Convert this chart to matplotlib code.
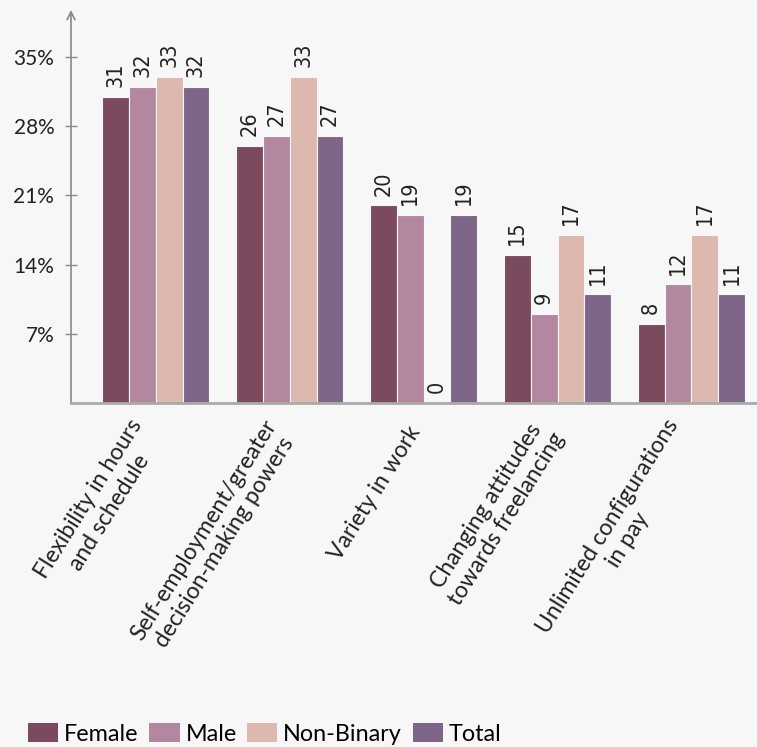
import numpy as np
import matplotlib.pyplot as plt
import matplotlib.transforms as mtransforms
from matplotlib.patches import Patch

plt.rcParams['font.family'] = ['Lato', 'DejaVu Sans']

# datos
categories = [
    "Flexibility in hours\nand schedule",
    "Self-employment/greater\ndecision-making powers",
    "Variety in work",
    "Changing attitudes\ntowards freelancing",
    "Unlimited configurations\nin pay",
]
series_names = ["Female", "Male", "Non-Binary", "Total"]
female = [31, 26, 20, 15, 8]
male = [32, 27, 19, 9, 12]
non_binary = [33, 33, 0, 17, 17]
total = [32, 27, 19, 11, 11]
y_ticks = [7, 14, 21, 28, 35]

colors = ["#7b4a5e", "#b3879f", "#dcb8ae", "#7d6688"]
bg = "#f7f7f7"

fig = plt.figure(figsize=(7.57, 7.47), dpi=100, facecolor=bg)
ax = fig.add_axes([71 / 757, 1 - 403 / 747, 1 - 71 / 757, (403 - 10) / 747])
ax.set_facecolor(bg)

x = np.arange(len(categories))
w = 0.2
for k, (vals, c) in enumerate(zip([female, male, non_binary, total], colors)):
    pos = x + (k - 1.5) * w
    ax.bar(pos, vals, width=w, color=c, edgecolor=bg, linewidth=0.8, zorder=2)
    for xp, v in zip(pos, vals):
        ax.annotate(f"{v}", (xp, v), xytext=(0, 7), textcoords="offset points",
                    rotation=90, ha="center", va="bottom", fontsize=15.5,
                    family="DejaVu Sans", fontstretch="condensed", color="#222222")

ax.set_xlim(-0.634, 4.49)
ax.set_ylim(0, 39.75)

ax.set_yticks(y_ticks)
ax.set_yticklabels([f"{t}%" for t in y_ticks], fontsize=15, color="#222222")
ax.tick_params(axis="y", direction="inout", length=8, color="#888888", width=1, pad=8)

ax.set_xticks(x)
ax.set_xticklabels(categories, rotation=58, ha="right", va="center",
                   rotation_mode="anchor", multialignment="center",
                   fontsize=16.5, color="#222222")
ax.tick_params(axis="x", length=0, pad=18)
shift = mtransforms.ScaledTranslation(-8 / 100, 0, fig.dpi_scale_trans)
for lbl in ax.get_xticklabels():
    lbl.set_transform(lbl.get_transform() + shift)

for s in ["top", "right", "left"]:
    ax.spines[s].set_visible(False)
ax.spines["bottom"].set_color("#aaaaaa")
ax.spines["bottom"].set_linewidth(2)
ax.spines["bottom"].set_zorder(3)

# eje y con flecha
ax.annotate("", xy=(0, 1.0), xytext=(0, 0), xycoords="axes fraction",
            arrowprops=dict(arrowstyle="->", color="#888888", lw=1.2,
                            mutation_scale=14, shrinkA=0, shrinkB=0))

handles = [Patch(facecolor=c, edgecolor="none") for c in colors]
fig.legend(handles, series_names, loc="lower left", bbox_to_anchor=(0.034, 0.0),
           ncol=4, frameon=False, fontsize=16.8, handlelength=1.3, handleheight=0.85,
           handletextpad=0.25, columnspacing=0.45, borderaxespad=0, borderpad=0.1)

fig.savefig("out.png", dpi=100, facecolor=bg)
